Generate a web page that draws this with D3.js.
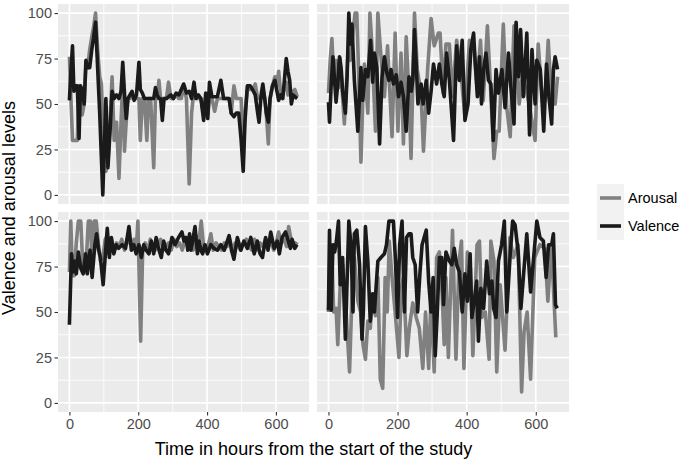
<!DOCTYPE html>
<html><head><meta charset="utf-8">
<script src="https://cdn.jsdelivr.net/npm/d3@7"></script>
<style>body{margin:0;background:#fff}svg{display:block;font-family:"Liberation Sans",Arial,sans-serif}</style>
</head><body><svg id="c" width="685" height="461"></svg>
<script>
// ---- data: [hours, level] ----
const seriesNames = ["Arousal", "Valence"];
const xTicks = [0, 200, 400, 600];
const yTicks = [0, 25, 50, 75, 100];

const p1Time = [0,5,9,13,18,23,28,32,37,43,48,53,59,65,70,76,82,88,93,97,102,106,112,118,124,130,137,144,150,155,160,165,170,176,182,188,195,202,206,212,218,225,230,236,245,250,255,260,265,270,275,282,288,295,302,310,318,325,332,340,348,355,362,368,375,382,390,396,402,407,414,422,430,440,448,456,464,470,478,485,492,499,505,510,517,525,532,540,547,551,557,562,568,572,578,583,590,597,603,608,614,620,625,630,635,640,645,650,655,662];
const p1Arousal = [76,50,30,30,30,30,60,55,44,50,72,70,80,87,92,100,80,65,61,40,20,13,18,40,65,30,40,9,40,63,24,40,53,53,55,53,53,53,30,53,53,30,53,53,15,53,53,63,53,53,53,53,62,53,53,55,53,53,60,53,6,45,58,53,53,53,45,53,44,53,53,46,53,53,53,53,53,45,60,53,53,53,20,45,58,58,58,61,53,53,53,58,53,45,28,53,60,65,60,68,55,55,60,62,55,58,55,57,58,54];
const p1Valence = [52,70,82,57,60,60,31,60,58,50,74,70,70,80,86,95,70,45,20,0,30,53,15,35,57,53,55,53,57,73,56,42,53,55,57,52,55,73,58,56,53,53,53,53,53,59,55,53,53,41,53,53,54,55,53,56,55,58,61,56,57,53,62,53,55,53,41,56,42,62,54,54,54,63,53,53,53,45,43,45,45,30,13,40,60,60,58,55,45,40,55,61,52,45,40,53,60,63,57,52,55,53,64,75,68,63,50,55,54,53];

const p2Arousal = [[0,56],[5,74],[10,86],[16,61],[22,74],[29,59],[34,75],[46,39],[56,76],[63,74],[70,87],[77,100],[82,100],[88,63],[94,18],[99,50],[104,72],[114,45],[120,100],[126,82],[136,35],[143,100],[152,76],[162,54],[171,82],[184,32],[193,89],[201,35],[210,78],[217,28],[225,87],[234,50],[239,20],[249,100],[257,69],[268,56],[275,24],[287,69],[297,97],[306,82],[318,89],[323,89],[332,56],[340,83],[350,83],[359,54],[371,85],[381,72],[395,43],[408,85],[420,83],[430,59],[440,85],[448,52],[460,93],[469,59],[479,20],[487,35],[494,35],[506,94],[516,48],[526,32],[537,93],[545,76],[552,50],[561,65],[573,57],[581,50],[598,30],[607,83],[617,57],[627,52],[636,85],[646,50],[656,50],[663,65]];
const p2Valence = [[0,51],[3,40],[8,61],[13,76],[17,65],[22,51],[27,61],[32,76],[37,69],[41,57],[49,45],[54,65],[59,100],[63,83],[68,94],[75,63],[85,35],[94,70],[99,52],[107,69],[114,65],[122,85],[128,62],[133,78],[140,70],[148,28],[155,65],[162,76],[169,67],[175,63],[181,69],[188,61],[196,66],[203,54],[210,62],[217,54],[225,35],[233,65],[240,57],[244,63],[249,91],[254,72],[259,50],[268,61],[274,50],[283,63],[290,45],[297,57],[304,72],[313,61],[321,72],[328,61],[335,54],[342,78],[350,63],[362,30],[371,82],[379,63],[387,85],[395,41],[404,50],[412,80],[420,89],[425,72],[431,54],[437,76],[443,50],[449,69],[456,78],[463,63],[470,61],[477,30],[485,69],[492,56],[502,69],[511,48],[521,78],[528,59],[537,39],[543,95],[550,65],[556,91],[564,54],[574,89],[582,33],[589,80],[598,50],[603,74],[613,69],[623,35],[631,72],[638,54],[646,39],[651,69],[656,76],[663,69]];

const p3Arousal = [[0,72],[4,100],[9,70],[14,70],[20,88],[26,100],[33,100],[39,75],[45,72],[50,82],[55,100],[61,100],[66,76],[72,100],[78,100],[84,88],[90,78],[97,80],[104,90],[110,92],[116,85],[122,90],[130,84],[137,88],[145,86],[152,90],[160,84],[168,90],[175,88],[182,86],[188,90],[194,84],[199,100],[207,34],[213,85],[220,88],[228,84],[235,90],[242,86],[250,84],[258,88],[265,90],[272,84],[280,86],[288,88],[296,84],[304,90],[312,86],[320,88],[328,84],[336,90],[344,86],[352,88],[360,84],[368,92],[376,88],[383,100],[390,86],[398,84],[405,88],[411,93],[418,84],[426,88],[434,86],[442,84],[450,88],[458,86],[466,90],[474,84],[482,88],[490,86],[498,84],[506,88],[514,90],[522,86],[530,84],[538,90],[546,84],[554,88],[562,86],[570,90],[578,86],[586,88],[594,84],[601,88],[608,94],[616,88],[624,90],[631,86],[637,97],[644,90],[650,86],[656,88],[663,87]];
const p3Valence = [[0,43],[6,82],[10,72],[15,78],[20,71],[26,83],[33,74],[40,71],[47,82],[52,71],[60,84],[66,69],[74,87],[79,93],[85,84],[90,80],[98,65],[105,83],[110,96],[116,80],[122,91],[129,82],[136,87],[143,85],[153,87],[163,85],[173,97],[180,84],[187,87],[194,82],[202,87],[209,80],[216,87],[223,84],[231,82],[238,89],[245,82],[252,91],[259,85],[267,80],[274,89],[281,84],[288,82],[298,91],[307,87],[317,91],[327,94],[333,89],[339,91],[344,84],[349,93],[353,84],[358,89],[365,97],[372,82],[377,89],[382,84],[387,82],[394,87],[401,82],[411,87],[420,85],[430,84],[440,87],[450,84],[464,92],[471,84],[478,79],[488,91],[498,84],[507,89],[517,85],[527,91],[537,82],[546,89],[554,82],[561,80],[570,91],[577,84],[585,94],[595,85],[604,89],[610,82],[618,91],[628,94],[636,89],[642,85],[647,90],[655,85],[661,87]];

const p4Arousal = [[0,50],[5,69],[10,80],[15,50],[22,52],[27,32],[34,65],[41,76],[51,50],[61,17],[69,65],[75,80],[85,56],[93,50],[100,32],[107,24],[114,45],[121,41],[128,60],[136,48],[143,69],[150,13],[157,8],[164,69],[170,50],[176,89],[184,69],[193,50],[204,25],[211,63],[217,69],[227,26],[234,41],[244,55],[254,47],[263,41],[273,19],[281,50],[290,19],[297,60],[306,17],[313,80],[321,83],[329,60],[335,32],[340,69],[347,25],[359,95],[369,24],[378,78],[385,89],[392,19],[402,83],[410,78],[418,26],[430,87],[437,89],[444,47],[454,50],[465,24],[470,89],[479,78],[487,17],[497,65],[511,29],[525,91],[535,80],[549,87],[559,6],[566,39],[575,50],[585,13],[597,80],[612,87],[626,85],[635,56],[645,87],[658,36]];
const p4Valence = [[0,51],[3,95],[8,51],[13,87],[18,83],[23,89],[29,100],[34,65],[41,80],[49,35],[59,100],[65,87],[71,50],[75,93],[82,95],[90,76],[97,35],[101,50],[107,97],[114,78],[121,45],[128,60],[133,50],[143,78],[152,80],[162,82],[168,87],[175,100],[182,100],[188,100],[194,78],[200,47],[206,87],[213,100],[220,50],[226,91],[233,93],[239,93],[244,80],[251,76],[258,50],[265,72],[271,87],[277,91],[283,95],[290,67],[297,50],[303,69],[309,26],[315,50],[321,80],[328,80],[333,54],[340,83],[350,78],[357,76],[364,85],[371,76],[379,72],[387,50],[395,71],[402,56],[410,82],[415,47],[422,56],[429,67],[434,34],[441,63],[449,52],[458,78],[466,60],[473,67],[478,52],[485,47],[492,78],[501,87],[509,100],[516,50],[526,82],[533,100],[540,98],[549,83],[557,52],[564,69],[574,93],[585,61],[593,78],[603,100],[612,91],[622,89],[630,69],[637,87],[646,87],[651,93],[657,54],[662,52]];

// ---- build ----
const panels = [
  {col:0,row:0,arousal:p1Time.map((t,i)=>[t,p1Arousal[i]]),valence:p1Time.map((t,i)=>[t,p1Valence[i]])},
  {col:1,row:0,arousal:p2Arousal,valence:p2Valence},
  {col:0,row:1,arousal:p3Arousal,valence:p3Valence},
  {col:1,row:1,arousal:p4Arousal,valence:p4Valence}
];
const colors = {Arousal:"#808080", Valence:"#1a1a1a"};
const colX = [[58,309],[317,569]];
const rowY = [[4,204],[212,412]];

const allT = panels.flatMap(p=>p.arousal.concat(p.valence).map(d=>d[0]));
const tMin = d3.min(allT), tMax = d3.max(allT), tPad = (tMax-tMin)*0.05;
const yPad = 5;

const svg = d3.select("#c");

panels.forEach(p=>{
  const [x0,x1] = colX[p.col], [y0,y1] = rowY[p.row];
  const x = d3.scaleLinear().domain([tMin-tPad, tMax+tPad]).range([x0,x1]);
  const y = d3.scaleLinear().domain([0-yPad, 100+yPad]).range([y1,y0]);
  const g = svg.append("g");
  g.append("rect").attr("x",x0).attr("y",y0).attr("width",x1-x0).attr("height",y1-y0).attr("fill","#ebebeb");
  // minor grid
  const yMinor = yTicks.slice(0,-1).map((v,i)=>(v+yTicks[i+1])/2);
  const xMinor = [-100].concat(xTicks).map((v)=>v+100).filter(v=>x(v)>x0&&x(v)<x1 && !xTicks.includes(v));
  g.selectAll(".ymn").data(yMinor).join("line").attr("x1",x0).attr("x2",x1).attr("y1",d=>y(d)).attr("y2",d=>y(d)).attr("stroke","#fff").attr("stroke-width",0.8);
  g.selectAll(".xmn").data(xMinor).join("line").attr("y1",y0).attr("y2",y1).attr("x1",d=>x(d)).attr("x2",d=>x(d)).attr("stroke","#fff").attr("stroke-width",0.8);
  g.selectAll(".ymj").data(yTicks).join("line").attr("x1",x0).attr("x2",x1).attr("y1",d=>y(d)).attr("y2",d=>y(d)).attr("stroke","#fff").attr("stroke-width",1.6);
  g.selectAll(".xmj").data(xTicks).join("line").attr("y1",y0).attr("y2",y1).attr("x1",d=>x(d)).attr("x2",d=>x(d)).attr("stroke","#fff").attr("stroke-width",1.6);

  const line = d3.line().x(d=>x(d[0])).y(d=>y(d[1]));
  g.append("path").attr("d",line(p.arousal)).attr("fill","none").attr("stroke",colors.Arousal).attr("stroke-width",3.6).attr("stroke-linejoin","round");
  g.append("path").attr("d",line(p.valence)).attr("fill","none").attr("stroke",colors.Valence).attr("stroke-width",3.6).attr("stroke-linejoin","round");

  if(p.col===0){
    const ax = d3.axisLeft(y).tickValues(yTicks).tickSize(3.5).tickPadding(2.5);
    const a = svg.append("g").attr("transform",`translate(${x0},0)`).call(ax);
    a.select(".domain").remove();
    a.selectAll("line").attr("stroke","#333").attr("stroke-width",1.1);
    a.selectAll("text").attr("fill","#4d4d4d").style("font-size","14.5px").style("font-family","Liberation Sans, Arial, sans-serif");
  }
  if(p.row===1){
    const ax = d3.axisBottom(x).tickValues(xTicks).tickSize(3.5).tickPadding(3);
    const a = svg.append("g").attr("transform",`translate(0,${y1})`).call(ax);
    a.select(".domain").remove();
    a.selectAll("line").attr("stroke","#333").attr("stroke-width",1.1);
    a.selectAll("text").attr("fill","#4d4d4d").style("font-size","14.5px").style("font-family","Liberation Sans, Arial, sans-serif");
  }
});

// axis titles
svg.append("text").attr("x",(colX[0][0]+colX[1][1])/2).attr("y",455).attr("text-anchor","middle")
  .style("font-size","18px").attr("fill","#000").text("Time in hours from the start of the study");
svg.append("text").attr("transform",`translate(15,${(rowY[0][0]+rowY[1][1])/2}) rotate(-90)`).attr("text-anchor","middle")
  .style("font-size","18px").attr("fill","#000").text("Valence and arousal levels");

// legend
const leg = svg.append("g").attr("transform","translate(597,184)");
seriesNames.forEach((s,i)=>{
  const gy = i*28;
  leg.append("rect").attr("x",0).attr("y",gy).attr("width",27).attr("height",28).attr("fill","#f2f2f2");
  leg.append("line").attr("x1",3).attr("x2",24).attr("y1",gy+14).attr("y2",gy+14).attr("stroke",colors[s]).attr("stroke-width",3.6);
  leg.append("text").attr("x",31).attr("y",gy+14).attr("dy","0.35em").style("font-size","14.5px").attr("fill","#000").text(s);
});
</script></body></html>
